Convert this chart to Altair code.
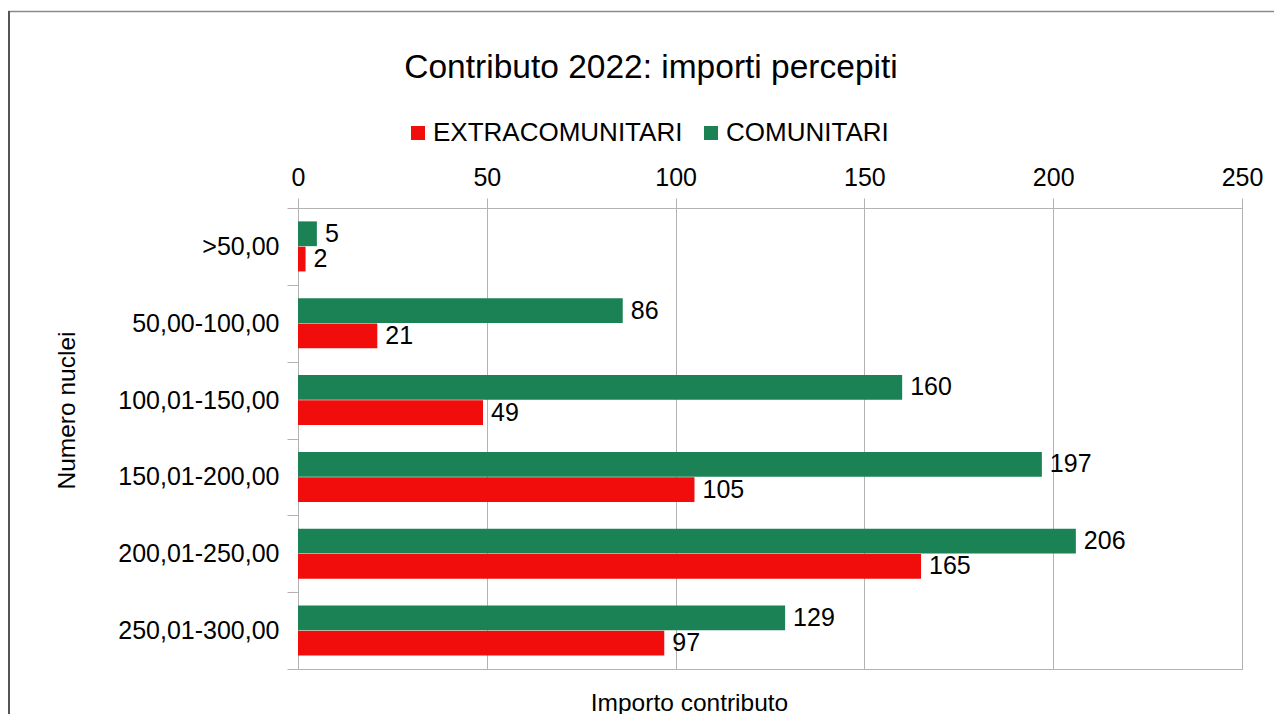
import altair as alt
import pandas as pd

categories = [">50,00", "50,00-100,00", "100,01-150,00", "150,01-200,00", "200,01-250,00", "250,01-300,00"]
extracomunitari = [2, 21, 49, 105, 165, 97]
comunitari = [5, 86, 160, 197, 206, 129]
groups = ["EXTRACOMUNITARI", "COMUNITARI"]
colors = ["#F10D0C", "#1A8254"]
x_ticks = [0, 50, 100, 150, 200, 250]

rows = []
for c, e, m in zip(categories, extracomunitari, comunitari):
    rows.append({"Fascia": c, "Gruppo": "EXTRACOMUNITARI", "Valore": e})
    rows.append({"Fascia": c, "Gruppo": "COMUNITARI", "Valore": m})
df = pd.DataFrame(rows)

FONT = "Liberation Sans"
W, H = 944, 461
GRID = "#b3b3b3"
FS = 25

y_enc = alt.Y(
    "Fascia:N",
    sort=categories,
    scale=alt.Scale(paddingInner=0, paddingOuter=0),
    axis=alt.Axis(
        title="Numero nuclei",
        titleFontSize=24.5,
        titleFontWeight="normal",
        titleAngle=-90,
        titleX=-231,
        titleY=202,
        titleAlign="center",
        titleBaseline="middle",
        labelFontSize=FS,
        labelPadding=8,
        labelLimit=400,
        tickSize=11,
        tickBand="extent",
        tickColor=GRID,
        domainColor=GRID,
        labelColor="black",
        titleColor="black",
    ),
)
x_enc = alt.X(
    "Valore:Q",
    scale=alt.Scale(domain=[0, 250], nice=False),
    axis=alt.Axis(
        orient="top",
        values=x_ticks,
        grid=True,
        gridColor=GRID,
        domainColor=GRID,
        tickColor=GRID,
        tickSize=10,
        labelFontSize=FS,
        labelPadding=8,
        labelFlush=False,
        labelColor="black",
        title="Importo contributo",
        titleFontSize=24.5,
        titleFontWeight="normal",
        titleColor="black",
        titleX=391,
        titleY=495,
        titleAlign="center",
        titleBaseline="middle",
    ),
)
yoff_sort = ["COMUNITARI", "EXTRACOMUNITARI"]

base = alt.Chart(df)
bars = base.mark_bar().encode(
    y=y_enc,
    x=x_enc,
    yOffset=alt.YOffset("Gruppo:N", sort=yoff_sort, scale=alt.Scale(paddingInner=0.02, paddingOuter=0.53)),
    color=alt.Color(
        "Gruppo:N",
        scale=alt.Scale(domain=groups, range=colors),
        legend=alt.Legend(
            title=None,
            orient="none",
            legendX=107,
            legendY=-88,
            direction="horizontal",
            symbolType="square",
            symbolSize=196,
            symbolStrokeWidth=0,
            labelFontSize=26,
            labelOffset=2,
            labelLimit=500,
            columnPadding=15,
            labelColor="black",
        ),
    ),
)
labels = base.mark_text(align="left", baseline="middle", dx=8, fontSize=FS, color="black").encode(
    y=alt.Y("Fascia:N", sort=categories),
    x=alt.X("Valore:Q"),
    yOffset=alt.YOffset("Gruppo:N", sort=yoff_sort),
    text="Valore:Q",
)

frame_df = pd.DataFrame({"k": [0]})
top_border = alt.Chart(frame_df).mark_rule(color="#8a8a8a", strokeWidth=1.5).encode(
    x=alt.value(-290), x2=alt.value(W + 40), y=alt.value(-196.5)
)
left_border = alt.Chart(frame_df).mark_rule(color="#555555", strokeWidth=2).encode(
    x=alt.value(-289), y=alt.value(-197), y2=alt.value(H + 50)
)

chart = alt.layer(bars, labels, top_border, left_border).properties(
    width=W,
    height=H,
    title=alt.TitleParams(
        "Contributo 2022: importi percepiti",
        fontSize=33.5,
        fontWeight="normal",
        font=FONT,
        color="black",
        anchor="middle",
        dx=-119,
        offset=-75,
    ),
    autosize=alt.AutoSizeParams(type="none"),
    padding={"left": 290, "top": 200, "right": 32, "bottom": 45},
).configure(font=FONT).configure_view(stroke=GRID).configure_axis(labelFont=FONT, titleFont=FONT).configure_legend(labelFont=FONT)

chart.save("out.html", embed_options={"renderer": "svg", "actions": False})
